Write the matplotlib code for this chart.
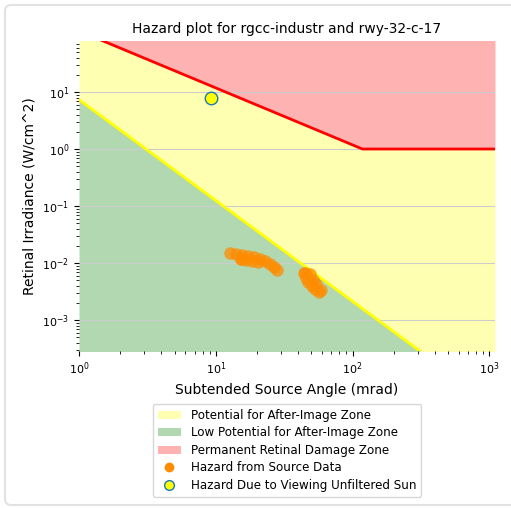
import numpy as np
import matplotlib
matplotlib.use("Agg")
import matplotlib.pyplot as plt
from matplotlib.patches import Patch, FancyBboxPatch
from matplotlib.lines import Line2D

# ---- data ----
title = "Hazard plot for rgcc-industr and rwy-32-c-17"
x_label = "Subtended Source Angle (mrad)"
y_label = "Retinal Irradiance (W/cm^2)"

# boundary lines (subtended angle mrad, irradiance W/cm^2)
damage_angle = [1.0, 118.0, 1100.0]
damage_irr = [118.0, 1.0, 1.0]
afterimage_angle = [1.0, 1100.0]
afterimage_irr = [7.33, 3.05e-5]

# hazard from source data
src_angle = [12.7, 14.1, 15.6, 17.2, 19.1, 21.1, 22.9, 25.0, 26.7, 28.1,
             15.2, 15.2, 16.6, 18.3, 20.2,
             44.3, 45.0, 49.0, 45.8, 47.3, 50.6, 53.3, 57.0, 58.9, 51.5, 54.2]
src_irr = [0.0150, 0.0144, 0.0138, 0.0133, 0.0127, 0.0117, 0.0108, 0.0096, 0.0085, 0.0075,
           0.0116, 0.0116, 0.0113, 0.0110, 0.0104,
           0.00668, 0.0066, 0.00641, 0.00546, 0.00464, 0.00395, 0.00350, 0.00310, 0.00336, 0.00503, 0.00428]

# sun
sun_angle = [9.25]
sun_irr = [7.9]

xlim = (1.0, 1100.0)
ylim = (2.86e-4, 78.5)

legend_labels = ["Potential for After-Image Zone",
                 "Low Potential for After-Image Zone",
                 "Permanent Retinal Damage Zone",
                 "Hazard from Source Data",
                 "Hazard Due to Viewing Unfiltered Sun"]

# ---- figure ----
W, H = 511, 508
fig = plt.figure(figsize=(W / 100, H / 100), dpi=100)
ax = fig.add_axes([79 / W, 1 - 351 / H, (495 - 79) / W, (351 - 41) / H])

# card border
fig.patches.append(FancyBboxPatch((5 / W, 3 / H), (W + 20) / W, (H - 8) / H,
                                  boxstyle="round,pad=0,rounding_size=0.012",
                                  transform=fig.transFigure, fill=False,
                                  edgecolor="#e2e2e2", linewidth=1.5, zorder=-5))

ax.set_xscale("log")
ax.set_yscale("log")

# zones built from boundary lines
grid_x = np.logspace(0, np.log10(xlim[1]), 400)
dmg = np.interp(np.log10(grid_x), np.log10(damage_angle), np.log10(damage_irr))
aft = np.interp(np.log10(grid_x), np.log10(afterimage_angle), np.log10(afterimage_irr))
ax.fill_between(grid_x, 10 ** dmg, 1e4, color="red", alpha=0.3, linewidth=0)
ax.fill_between(grid_x, 10 ** aft, 10 ** dmg, color="yellow", alpha=0.3, linewidth=0)
ax.fill_between(grid_x, 1e-8, 10 ** aft, color="green", alpha=0.3, linewidth=0)

ax.plot(damage_angle, damage_irr, color="red", linewidth=2)
ax.plot(afterimage_angle, afterimage_irr, color="yellow", linewidth=2)

ax.plot(src_angle, src_irr, "o", color="darkorange", alpha=0.75,
        markersize=9, markeredgewidth=0)
ax.plot(sun_angle, sun_irr, "o", markerfacecolor="yellow",
        markeredgecolor="#1f77b4", markersize=9, markeredgewidth=1)

ax.set_xlim(*xlim)
ax.set_ylim(*ylim)
ax.yaxis.grid(True, which="major", color="#cccccc", linewidth=0.8)
for s in ax.spines.values():
    s.set_visible(False)
ax.tick_params(labelsize=8)

ax.set_title(title, fontsize=10)
ax.set_xlabel(x_label, fontsize=10)
ax.set_ylabel(y_label, fontsize=10)

handles = [Patch(facecolor="yellow", alpha=0.3),
           Patch(facecolor="green", alpha=0.3),
           Patch(facecolor="red", alpha=0.3),
           Line2D([], [], linestyle="none", marker="o", color="darkorange",
                  markersize=6),
           Line2D([], [], linestyle="none", marker="o", markerfacecolor="yellow",
                  markeredgecolor="#1f77b4", markersize=7, markeredgewidth=1)]
ax.legend(handles, legend_labels, loc="upper center", bbox_to_anchor=(0.5, -0.152),
          fontsize=8.6, frameon=True, labelspacing=0.38)

fig.savefig("out.png", dpi=100)
